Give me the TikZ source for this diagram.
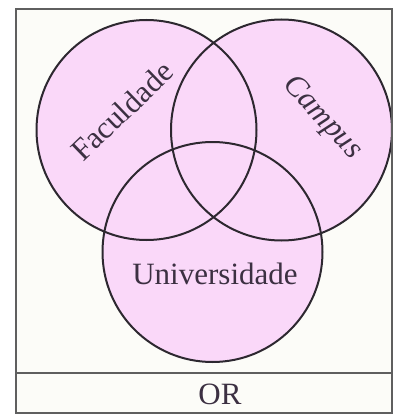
\documentclass[tikz,border=0pt]{standalone}
\usepackage{fontspec}
\setmainfont{Liberation Serif}
\begin{document}
\begin{tikzpicture}[x=1pt,y=-1pt,
  vline/.style={draw=vdark,line width=2pt},
  lbl/.style={text=vtext,font=\fontsize{31}{33}\selectfont,inner sep=0pt},
  frame/.style={draw=vgray,line width=2pt}]
\definecolor{vpink}{RGB}{250,216,249}
\definecolor{vdark}{RGB}{45,40,48}
\definecolor{vtext}{RGB}{60,48,66}
\definecolor{vgray}{RGB}{95,95,95}
\definecolor{vbg}{RGB}{252,252,248}
\useasboundingbox (0,0) rectangle (393,415);
\fill[vbg] (16,9) rectangle (393,413);
\coordinate (cf) at (146.5,130);
\coordinate (cc) at (281.5,130);
\coordinate (cu) at (212.5,252);
\fill[vpink] (cf) circle (110) (cc) circle (110.5) (cu) circle (110);
\draw[vline] (cf) circle (110);
\draw[vline] (cc) circle (110.5);
\draw[vline] (cu) circle (110);
\draw[frame] (16,9) rectangle (392,413);
\draw[frame] (16,373) -- (392,373);
\node[lbl,rotate=44] (fac) at (122,111) {Faculdade};
\node[lbl,rotate=-47] (cam) at (322,118) {\itshape Campus};
\node[lbl] (uni) at (215,274) {Universidade};
\node[lbl] (or) at (220,394) {OR};
\end{tikzpicture}
\end{document}
